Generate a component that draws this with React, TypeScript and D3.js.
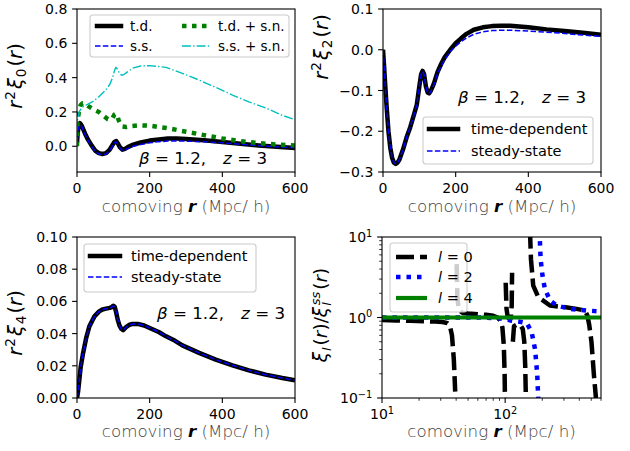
import React from 'react';
import * as d3 from 'd3';

// ---------------- data ----------------
// Top-left: r^2 xi_0(r)
const r0 = [0, 2, 5, 8, 10, 13, 17, 22, 30, 40, 50, 60, 70, 80, 90, 97, 103, 108, 113, 118, 125, 132, 140, 155, 175, 200, 225, 250, 275, 300, 350, 400, 450, 500, 550, 600];
const xi0TD = [0.02, 0.08, 0.125, 0.135, 0.13, 0.12, 0.1, 0.075, 0.04, 0.005, -0.025, -0.04, -0.045, -0.04, -0.02, 0.005, 0.025, 0.03, 0.015, -0.005, -0.02, -0.015, -0.005, 0.01, 0.022, 0.033, 0.04, 0.045, 0.045, 0.043, 0.035, 0.025, 0.015, 0.005, -0.003, -0.01];
const xi0SS = [0.0, 0.06, 0.115, 0.128, 0.125, 0.115, 0.095, 0.07, 0.035, 0.0, -0.03, -0.045, -0.05, -0.045, -0.025, -0.002, 0.02, 0.025, 0.01, -0.01, -0.025, -0.022, -0.013, 0.0, 0.01, 0.02, 0.027, 0.03, 0.031, 0.03, 0.026, 0.02, 0.012, 0.004, -0.003, -0.008];
const rTDsn = [0, 1, 3, 6, 10, 15, 20, 30, 45, 60, 75, 85, 92, 98, 103, 107, 111, 115, 120, 125, 135, 150, 175, 200, 250, 300, 350, 400, 450, 500, 550, 600];
const xi0TDsn = [0.0, 0.15, 0.17, 0.21, 0.24, 0.25, 0.25, 0.235, 0.215, 0.2, 0.175, 0.158, 0.155, 0.165, 0.185, 0.19, 0.175, 0.15, 0.13, 0.115, 0.112, 0.118, 0.122, 0.12, 0.105, 0.085, 0.065, 0.045, 0.03, 0.018, 0.01, 0.005];
const rSSsn = [0, 1, 3, 6, 10, 15, 20, 30, 43, 61, 80, 90, 98, 103, 107, 111, 116, 122, 127, 140, 153, 175, 200, 245, 290, 336, 382, 428, 473, 519, 565, 600];
const xi0SSsn = [0.0, 0.15, 0.17, 0.2, 0.215, 0.228, 0.235, 0.245, 0.26, 0.29, 0.33, 0.36, 0.4, 0.44, 0.46, 0.45, 0.43, 0.415, 0.415, 0.435, 0.455, 0.468, 0.47, 0.46, 0.425, 0.386, 0.343, 0.298, 0.259, 0.224, 0.18, 0.155];

// Top-right: r^2 xi_2(r)
const r2 = [0, 3, 6, 10, 15, 20, 25, 30, 35, 40, 45, 55, 65, 75, 85, 93, 100, 105, 109, 113, 118, 123, 127, 132, 140, 150, 160, 170, 185, 200, 215, 230, 250, 275, 300, 325, 350, 400, 450, 500, 550, 600];
const xi2TD = [0.0, -0.04, -0.085, -0.14, -0.2, -0.24, -0.265, -0.277, -0.28, -0.277, -0.27, -0.245, -0.215, -0.19, -0.16, -0.135, -0.09, -0.06, -0.052, -0.06, -0.09, -0.105, -0.107, -0.1, -0.083, -0.055, -0.035, -0.018, 0.0, 0.016, 0.028, 0.039, 0.049, 0.055, 0.058, 0.059, 0.059, 0.055, 0.05, 0.046, 0.042, 0.037];
const xi2SS = [0.0, -0.04, -0.085, -0.14, -0.2, -0.24, -0.265, -0.277, -0.28, -0.277, -0.27, -0.245, -0.215, -0.19, -0.16, -0.135, -0.09, -0.06, -0.053, -0.061, -0.091, -0.106, -0.108, -0.102, -0.086, -0.058, -0.04, -0.025, -0.004, 0.009, 0.02, 0.029, 0.038, 0.044, 0.047, 0.048, 0.048, 0.046, 0.043, 0.04, 0.036, 0.033];

// Bottom-left: r^2 xi_4(r)
const r4 = [0, 3, 6, 10, 16, 25, 34, 48, 61, 70, 80, 90, 96, 100, 104, 108, 112, 117, 122, 127, 135, 145, 153, 167, 185, 200, 225, 245, 270, 290, 336, 382, 428, 473, 519, 565, 600];
const xi4TD = [0.0, 0.004, 0.0104, 0.019, 0.027, 0.037, 0.0445, 0.0507, 0.0538, 0.055, 0.0555, 0.056, 0.0565, 0.0573, 0.0565, 0.053, 0.0487, 0.045, 0.043, 0.0422, 0.044, 0.0455, 0.046, 0.046, 0.045, 0.0435, 0.041, 0.0383, 0.0355, 0.0327, 0.028, 0.0238, 0.0203, 0.0172, 0.0145, 0.0124, 0.011];
const xi4SS = [0.0, 0.004, 0.0104, 0.019, 0.027, 0.037, 0.0445, 0.0507, 0.0538, 0.055, 0.0555, 0.056, 0.0565, 0.0573, 0.0565, 0.053, 0.0487, 0.045, 0.043, 0.0422, 0.044, 0.0455, 0.046, 0.046, 0.045, 0.0435, 0.041, 0.0383, 0.0355, 0.0327, 0.028, 0.0238, 0.0203, 0.0172, 0.0145, 0.0124, 0.011];

// Bottom-right: ratios xi_l / xi_l^ss (negative = ratio below zero, not drawn on log axis)
const rRatio0 = [10, 13, 17, 22, 27, 31, 34, 35.5, 37, 38.3, 39.3, 40.0, 40.4, 40.9, 42, 45, 50, 60, 70, 80, 87, 92, 95, 97.5, 99, 99.8, 100.4, 101, 102.5, 105, 108, 111, 113, 113.8, 114.5, 115.5, 118, 125, 133, 139, 143, 145.5, 147.5, 150, 156, 159, 162, 169, 186, 231, 296, 380, 444, 465, 482, 502, 526, 546, 570, 600];
const ratio0 = [0.93, 0.92, 0.91, 0.9, 0.89, 0.88, 0.85, 0.8, 0.6, 0.3, 0.12, -1, 4.6, 1.8, 1.25, 1.14, 1.12, 1.1, 1.08, 1.05, 1.0, 0.9, 0.75, 0.45, 0.2, 0.08, -1, 2.7, 1.3, 1.0, 0.97, 0.98, 1.4, 3.6, -1, 0.5, 0.78, 0.82, 0.8, 0.72, 0.5, 0.25, 0.09, -1, -1, 12, 5.3, 2.49, 1.79, 1.41, 1.35, 1.28, 1.22, 1.06, 0.8, 0.5, 0.19, 0.1, -1, -1];
const rRatio2 = [10, 30, 60, 90, 100, 110, 120, 135, 150, 164, 175, 182, 186, 187.5, 190, 194, 201, 210, 231, 262, 336, 458, 600];
const ratio2 = [1.0, 1.0, 1.0, 0.98, 0.95, 0.92, 0.9, 0.88, 0.85, 0.66, 0.4, 0.2, 0.09, -1, 12, 5.3, 3.3, 2.27, 1.63, 1.41, 1.28, 1.22, 1.19];
const rRatio4 = [10, 30, 100, 300, 600];
const ratio4 = [1.0, 1.0, 1.0, 1.0, 1.0];

// ticks
const xTicksLin = [0, 200, 400, 600];
const yTicksTL = [0.0, 0.2, 0.4, 0.6, 0.8];
const yTicksTR = [-0.3, -0.2, -0.1, 0.0, 0.1];
const yTicksBL = [0.0, 0.02, 0.04, 0.06, 0.08, 0.1];
const xTicksLog = [10, 100];
const xTickExp = ['1', '2'];
const yTicksLog = [0.1, 1, 10];
const yTickExp = ['\u22121', '0', '1'];

// ---------------- helpers ----------------
const FONT = '"DejaVu Sans", sans-serif';
type Box = { x0: number; x1: number; y0: number; y1: number };
type Part = { t: string; i?: boolean; b?: boolean; sup?: boolean; sub?: boolean; dx?: number; light?: boolean };

function Math({ x, y, parts, size, anchor = 'start', rotate = false, fill = '#000' }: { x: number; y: number; parts: Part[]; size: number; anchor?: string; rotate?: boolean; fill?: string }) {
  let cur = 0;
  const spans = parts.map((p, k) => {
    const target = p.sup ? -0.36 * size : p.sub ? 0.2 * size : 0;
    const dy = target - cur;
    cur = target;
    return (
      <tspan key={k} dy={dy} dx={p.dx ?? 0} fontStyle={p.i ? 'italic' : 'normal'} fontWeight={p.b ? 'bold' : p.light ? 200 : 'normal'} fill={p.light ? '#444' : fill} fontSize={p.sup || p.sub ? size * 0.7 : size}>
        {p.t}
      </tspan>
    );
  });
  if (rotate) {
    return (
      <text transform={`translate(${x},${y}) rotate(-90)`} x={0} y={0} textAnchor={anchor} fontFamily={FONT} fontSize={size} style={{ whiteSpace: 'pre' }}>
        {spans}
      </text>
    );
  }
  return (
    <text x={x} y={y} textAnchor={anchor} fontFamily={FONT} fontSize={size} style={{ whiteSpace: 'pre' }} fill={fill}>
      {spans}
    </text>
  );
}

function Axes({ box, id, xs, ys, xTicks, yTicks, xMinor = [], yMinor = [], children }: any) {
  const TL = 4.9;
  return (
    <g>
      <defs>
        <clipPath id={id}>
          <rect x={box.x0} y={box.y0} width={box.x1 - box.x0} height={box.y1 - box.y0} />
        </clipPath>
      </defs>
      <g clipPath={`url(#${id})`}>{children}</g>
      <rect x={box.x0} y={box.y0} width={box.x1 - box.x0} height={box.y1 - box.y0} fill="none" stroke="#000" strokeWidth={1.1} />
      {xTicks.map((t: any, k: number) => (
        <g key={'x' + k}>
          <line x1={xs(t.v)} x2={xs(t.v)} y1={box.y1} y2={box.y1 + TL} stroke="#000" strokeWidth={1.1} />
          {t.node(xs(t.v), box.y1 + 21)}
        </g>
      ))}
      {xMinor.map((v: number, k: number) => (
        <line key={'xm' + k} x1={xs(v)} x2={xs(v)} y1={box.y1} y2={box.y1 + 2.8} stroke="#000" strokeWidth={0.8} />
      ))}
      {yTicks.map((t: any, k: number) => (
        <g key={'y' + k}>
          <line x1={box.x0 - TL} x2={box.x0} y1={ys(t.v)} y2={ys(t.v)} stroke="#000" strokeWidth={1.1} />
          {t.node(box.x0 - 9.7, ys(t.v) + 5)}
        </g>
      ))}
      {yMinor.map((v: number, k: number) => (
        <line key={'ym' + k} x1={box.x0 - 2.8} x2={box.x0} y1={ys(v)} y2={ys(v)} stroke="#000" strokeWidth={0.8} />
      ))}
    </g>
  );
}

const TICK = 14;
const LAB = 16.7;
const linTick = (fmt: (v: number) => string, anchor: string) => (v: number) => ({
  v,
  node: (x: number, y: number) => (
    <text x={x} y={y} textAnchor={anchor} fontFamily={FONT} fontSize={TICK}>
      {fmt(v)}
    </text>
  ),
});
const logTick = (exp: string, anchor: string, v: number) => ({
  v,
  node: (x: number, y: number) => (
    <Math x={x} y={y} anchor={anchor} size={TICK} parts={[{ t: '10' }, { t: exp, sup: true }]} />
  ),
});

function XLabel({ box, y }: { box: Box; y: number }) {
  return (
    <Math x={(box.x0 + box.x1) / 2} y={y} anchor="middle" size={LAB} parts={[{ t: 'comoving ', light: true }, { t: 'r', i: true, b: true }, { t: ' (Mpc/ h)', light: true }]} />
  );
}

const betaParts: Part[] = [{ t: 'β', i: true }, { t: ' = 1.2,' }, { t: 'z', i: true, dx: 17 }, { t: ' = 3' }];
const ylabParts = (n: string): Part[] => [{ t: 'r', i: true }, { t: '2', sup: true, dx: 1 }, { t: 'ξ', i: true, dx: 2 }, { t: n, sub: true, dx: 1 }, { t: '(', dx: 2 }, { t: 'r', i: true }, { t: ')' }];

function LegendBox({ x, y, w, h }: { x: number; y: number; w: number; h: number }) {
  return <rect x={x} y={y} width={w} height={h} rx={3} fill="#fff" fillOpacity={0.8} stroke="#cccccc" strokeWidth={1.1} />;
}

type Sty = { stroke: string; w: number; dash?: string; cap?: string };
function Handle({ x1, x2, y, s }: { x1: number; x2: number; y: number; s: Sty }) {
  return <line x1={x1} x2={x2} y1={y} y2={y} stroke={s.stroke} strokeWidth={s.w} strokeDasharray={s.dash} strokeLinecap={(s.cap as any) ?? 'butt'} />;
}

const S_TD: Sty = { stroke: '#000', w: 4.5, cap: 'square' };
const S_SS: Sty = { stroke: '#0000ff', w: 1.5, dash: '5.5 2.4' };
const S_TDSN: Sty = { stroke: '#008000', w: 4.5, dash: '4.5 5.5' };
const S_SSSN: Sty = { stroke: '#00bfbf', w: 1.4, dash: '8.9 2.2 1.4 2.2' };
const S_L0: Sty = { stroke: '#000', w: 4.5, dash: '18 6' };
const S_L2: Sty = { stroke: '#0000ff', w: 4.5, dash: '4.5 6' };
const S_L4: Sty = { stroke: '#008000', w: 4.2 };

function Curve({ xs, ys, r, v, s, log = false }: any) {
  const pts: [number, number][] = r.map((ri: number, k: number) => [ri, v[k]]);
  const gen = d3
    .line<[number, number]>()
    .defined((d) => (log ? d[1] > 0 : true))
    .x((d) => xs(d[0]))
    .y((d) => ys(d[1] > 1e3 ? 1e3 : d[1]));
  return <path d={gen(pts) ?? ''} fill="none" stroke={s.stroke} strokeWidth={s.w} strokeDasharray={s.dash} strokeLinejoin="round" />;
}

// ---------------- app ----------------
export default function App() {
  const bTL: Box = { x0: 77, x1: 295, y0: 9, y1: 172 };
  const bTR: Box = { x0: 383, x1: 601, y0: 9, y1: 172 };
  const bBL: Box = { x0: 77, x1: 295, y0: 237, y1: 398 };
  const bBR: Box = { x0: 382, x1: 601, y0: 237, y1: 398 };

  const xTL = d3.scaleLinear().domain([0, 600]).range([bTL.x0, bTL.x1]);
  const yTL = d3.scaleLinear().domain([-0.15, 0.8]).range([bTL.y1, bTL.y0]);
  const xTR = d3.scaleLinear().domain([0, 600]).range([bTR.x0, bTR.x1]);
  const yTR = d3.scaleLinear().domain([-0.3, 0.1]).range([bTR.y1, bTR.y0]);
  const xBL = d3.scaleLinear().domain([0, 600]).range([bBL.x0, bBL.x1]);
  const yBL = d3.scaleLinear().domain([0, 0.1]).range([bBL.y1, bBL.y0]);
  const xBR = d3.scaleLog().domain([10, 600]).range([bBR.x0, bBR.x1]);
  const yBR = d3.scaleLog().domain([0.1, 10]).range([bBR.y1, bBR.y0]);

  const f0 = d3.format('d');
  const f1 = d3.format('.1f');
  const f2 = d3.format('.2f');

  const xMinorLog = [20, 30, 40, 50, 60, 70, 80, 90, 200, 300, 400, 500, 600];
  const yMinorLog = [0.2, 0.3, 0.4, 0.5, 0.6, 0.7, 0.8, 0.9, 2, 3, 4, 5, 6, 7, 8, 9];
  const YL = 19.5;

  return (
    <svg width={630} height={451} viewBox="0 0 630 451" style={{ position: 'absolute', left: 0, top: 0, background: '#fff' }}>
      <rect x={0} y={0} width={630} height={451} fill="#fff" />

      {/* Top-left */}
      <Axes box={bTL} id="cTL" xs={xTL} ys={yTL} xTicks={xTicksLin.map(linTick(f0, 'middle'))} yTicks={yTicksTL.map(linTick(f1, 'end'))}>
        <Curve xs={xTL} ys={yTL} r={r0} v={xi0TD} s={S_TD} />
        <Curve xs={xTL} ys={yTL} r={r0} v={xi0SS} s={S_SS} />
        <Curve xs={xTL} ys={yTL} r={rTDsn} v={xi0TDsn} s={S_TDSN} />
        <Curve xs={xTL} ys={yTL} r={rSSsn} v={xi0SSsn} s={S_SSSN} />
      </Axes>
      <LegendBox x={90} y={15} w={199} h={42} />
      <Handle x1={97} x2={121} y={26} s={S_TD} />
      <text x={130} y={31} fontFamily={FONT} fontSize={13.5}>t.d.</text>
      <Handle x1={95} x2={123} y={46} s={S_SS} />
      <text x={130} y={51} fontFamily={FONT} fontSize={13.5}>s.s.</text>
      <Handle x1={182} x2={210} y={26} s={S_TDSN} />
      <text x={218} y={31} fontFamily={FONT} fontSize={13.5}>t.d. + s.n.</text>
      <Handle x1={182} x2={210} y={46} s={S_SSSN} />
      <text x={218} y={51} fontFamily={FONT} fontSize={13.5}>s.s. + s.n.</text>
      <Math x={139} y={164} size={LAB} parts={betaParts} />
      <Math x={22} y={76} rotate anchor="middle" size={YL} parts={ylabParts('0')} />
      <XLabel box={bTL} y={212} />

      {/* Top-right */}
      <Axes box={bTR} id="cTR" xs={xTR} ys={yTR} xTicks={xTicksLin.map(linTick(f0, 'middle'))} yTicks={yTicksTR.map(linTick(f1, 'end'))}>
        <Curve xs={xTR} ys={yTR} r={r2} v={xi2TD} s={S_TD} />
        <Curve xs={xTR} ys={yTR} r={r2} v={xi2SS} s={S_SS} />
      </Axes>
      <Math x={458} y={103} size={LAB} parts={betaParts} />
      <LegendBox x={423} y={117} w={170} h={47} />
      <Handle x1={429} x2={458} y={129} s={S_TD} />
      <text x={471} y={134} fontFamily={FONT} fontSize={14.5}>time-dependent</text>
      <Handle x1={427} x2={460} y={151} s={S_SS} />
      <text x={471} y={156} fontFamily={FONT} fontSize={14.5}>steady-state</text>
      <Math x={328} y={47} rotate anchor="middle" size={YL} parts={ylabParts('2')} />
      <XLabel box={bTR} y={212} />

      {/* Bottom-left */}
      <Axes box={bBL} id="cBL" xs={xBL} ys={yBL} xTicks={xTicksLin.map(linTick(f0, 'middle'))} yTicks={yTicksBL.map(linTick(f2, 'end'))}>
        <Curve xs={xBL} ys={yBL} r={r4} v={xi4TD} s={S_TD} />
        <Curve xs={xBL} ys={yBL} r={r4} v={xi4SS} s={S_SS} />
      </Axes>
      <LegendBox x={84} y={244} w={172} h={48} />
      <Handle x1={90} x2={120} y={256} s={S_TD} />
      <text x={131} y={261} fontFamily={FONT} fontSize={14.5}>time-dependent</text>
      <Handle x1={88} x2={122} y={277} s={S_SS} />
      <text x={131} y={282} fontFamily={FONT} fontSize={14.5}>steady-state</text>
      <Math x={157} y={319} size={LAB} parts={betaParts} />
      <Math x={22} y={323} rotate anchor="middle" size={YL} parts={ylabParts('4')} />
      <XLabel box={bBL} y={437} />

      {/* Bottom-right */}
      <Axes box={bBR} id="cBR" xs={xBR} ys={yBR} xTicks={xTicksLog.map((v, k) => logTick(xTickExp[k], 'middle', v))} yTicks={yTicksLog.map((v, k) => logTick(yTickExp[k], 'end', v))} xMinor={xMinorLog} yMinor={yMinorLog}>
        <Curve xs={xBR} ys={yBR} r={rRatio0} v={ratio0} s={S_L0} log />
        <Curve xs={xBR} ys={yBR} r={rRatio2} v={ratio2} s={S_L2} log />
        <Curve xs={xBR} ys={yBR} r={rRatio4} v={ratio4} s={S_L4} log />
      </Axes>
      <LegendBox x={390} y={243} w={77} h={69} />
      <Handle x1={396} x2={427} y={257} s={S_L0} />
      <Math x={438} y={262} size={14.5} parts={[{ t: 'l', i: true }, { t: ' = 0' }]} />
      <Handle x1={396} x2={427} y={277} s={S_L2} />
      <Math x={438} y={282} size={14.5} parts={[{ t: 'l', i: true }, { t: ' = 2' }]} />
      <Handle x1={396} x2={427} y={298} s={S_L4} />
      <Math x={438} y={303} size={14.5} parts={[{ t: 'l', i: true }, { t: ' = 4' }]} />
      <Math x={327} y={315} rotate anchor="middle" size={18.5} parts={[{ t: 'ξ', i: true }, { t: 'l', i: true, sub: true, dx: 1 }, { t: '(', dx: 2 }, { t: 'r', i: true }, { t: ')/' }, { t: 'ξ', i: true }, { t: 'l', i: true, sub: true, dx: 1 }, { t: 'ss', i: true, sup: true, dx: -3 }, { t: '(', dx: 2 }, { t: 'r', i: true }, { t: ')' }]} />
      <XLabel box={bBR} y={437} />
    </svg>
  );
}
